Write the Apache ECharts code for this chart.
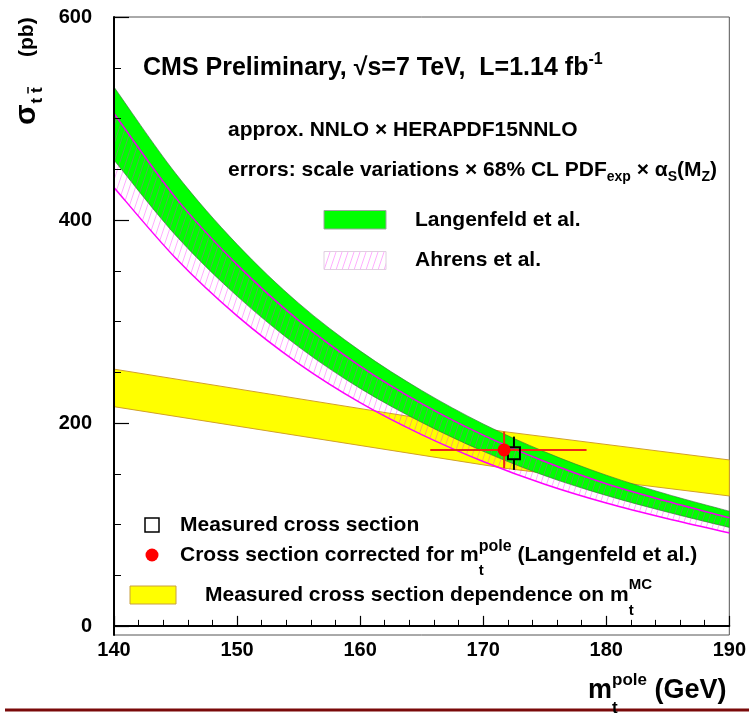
<!DOCTYPE html>
<html>
<head>
<meta charset="utf-8">
<script src="https://cdn.jsdelivr.net/npm/echarts@6/dist/echarts.min.js"></script>
<style>
  html, body { margin: 0; padding: 0; background: #fff; }
  #chart { width: 749px; height: 714px; }
</style>
</head>
<body>
<div id="chart"></div>
<script>
// Top-quark mass grid (GeV) for the theory curves
const massGrid = [140, 145, 150, 155, 160, 165, 170, 175, 180, 185, 190];
// Langenfeld et al. approx. NNLO band (pb)
const langenfeldHigh = [531, 446, 376, 318, 271, 232, 199, 171.5, 148.5, 129.5, 113];
const langenfeldLow  = [459, 385, 325, 275, 234, 200.5, 172, 148, 128.5, 112, 97];
// Ahrens et al. band (pb)
const ahrensHigh = [505, 422, 356, 301, 256, 219, 188, 162, 140, 122.5, 106.5];
const ahrensLow  = [432, 362.5, 305.5, 258.5, 220, 188.5, 162, 139.5, 121, 105.5, 91.6];
// Measured cross section as a function of m_t^MC (pb)
const measMass = [140, 171.7, 190];
const measHigh = [253, 191.4, 163.5];
const measLow  = [216, 155.4, 128];
// Measured point at m_t^MC = 172.5 GeV
const measuredPoint = [172.5, 170];
const measuredErr = [153.7, 186.5];
// Cross section corrected for the pole mass
const polePoint = [171.7, 173.4];
const poleMassErr = [165.7, 178.4];
const poleXsecErr = [155.4, 191.4];
// Axis ticks
const xTicks = [140, 150, 160, 170, 180, 190];
const yTicks = [0, 200, 400, 600];

const FONT = '"Liberation Sans", Helvetica, Arial, sans-serif';
const measureCtx = document.createElement('canvas').getContext('2d');
function textWidth(str, size) {
  measureCtx.font = 'bold ' + size + 'px ' + FONT;
  return measureCtx.measureText(str).width;
}
// Lay out a line of text pieces (sub/superscripts via dy and smaller sizes)
function richRow(x, y, parts) {
  const els = [];
  let cursor = x, lastX = x, lastW = 0;
  parts.forEach(p => {
    const w = textWidth(p.t, p.s);
    let px;
    if (p.stack) { px = lastX + (p.dx || 0); cursor = lastX + Math.max(lastW, w); }
    else { px = cursor + (p.dx || 0); cursor = px + w; lastX = px; lastW = w; }
    els.push({
      type: 'text', x: px, y: y + (p.dy || 0), z: 20, silent: true,
      style: { text: p.t, font: 'bold ' + p.s + 'px ' + FONT, fill: p.c || '#000', align: 'left', verticalAlign: 'middle' }
    });
  });
  return els;
}

// Diagonal hatch used for the Ahrens et al. band
function makeHatch() {
  const c = document.createElement('canvas');
  const w = 6, h = 18;
  c.width = w; c.height = h;
  const g = c.getContext('2d');
  g.strokeStyle = 'rgba(255,0,255,0.32)';
  g.lineWidth = 1;
  for (let k = -1; k <= 1; k++) {
    g.beginPath();
    g.moveTo(k * w, h);
    g.lineTo(k * w + w, 0);
    g.stroke();
  }
  return c;
}
const hatchPattern = { image: makeHatch(), repeat: 'repeat' };

// Smooth path through pixel points (Catmull-Rom as cubic Beziers)
function curveSegs(pts, start) {
  let d = (start ? 'M' : 'L') + pts[0][0] + ',' + pts[0][1];
  for (let i = 0; i < pts.length - 1; i++) {
    const p0 = pts[i - 1] || pts[i], p1 = pts[i], p2 = pts[i + 1], p3 = pts[i + 2] || pts[i + 1];
    const c1 = [p1[0] + (p2[0] - p0[0]) / 6, p1[1] + (p2[1] - p0[1]) / 6];
    const c2 = [p2[0] - (p3[0] - p1[0]) / 6, p2[1] - (p3[1] - p1[1]) / 6];
    d += 'C' + c1[0] + ',' + c1[1] + ' ' + c2[0] + ',' + c2[1] + ' ' + p2[0] + ',' + p2[1];
  }
  return d;
}
function edgePoints(api, xs, ys) {
  return xs.map((x, i) => api.coord([x, ys[i]]));
}
function bandPath(api, xs, hi, lo, smooth) {
  const up = edgePoints(api, xs, hi);
  const dn = edgePoints(api, xs, lo).reverse();
  if (!smooth) {
    return 'M' + up.concat(dn).map(p => p[0] + ',' + p[1]).join('L') + 'Z';
  }
  return curveSegs(up, true) + curveSegs(dn, false) + 'Z';
}

const chart = echarts.init(document.getElementById('chart'), null, { renderer: 'canvas' });

const axisLabelStyle = { fontFamily: FONT, fontWeight: 'bold', fontSize: 20, color: '#000' };

// Y-axis title, drawn rotated
const yTitleParts = [];
(function () {
  const sSig = 30, sSub = 17;
  const wSig = textWidth('σ', sSig);
  const wT = textWidth('t', sSub), wSp = textWidth(' ', sSub);
  yTitleParts.push(...richRow(0, 0, [{ t: 'σ', s: sSig }]));
  const x1 = wSig + 1;
  yTitleParts.push(...richRow(x1, 10, [{ t: 't', s: sSub }]));
  const x2 = x1 + wT + wSp;
  yTitleParts.push(...richRow(x2, 10, [{ t: 't', s: sSub }]));
  yTitleParts.push({ type: 'line', z: 20, silent: true, shape: { x1: x2 - 0.5, y1: 1, x2: x2 + wT + 0.5, y2: 1 }, style: { stroke: '#000', lineWidth: 1.5 } });
  yTitleParts.push(...richRow(68, 0, [{ t: '(pb)', s: 21 }]));
})();

const graphicEls = [
  // bottom rule
  { type: 'line', z: 15, silent: true, shape: { x1: 5, y1: 710, x2: 749, y2: 710 }, style: { stroke: '#7a0a0a', lineWidth: 3 } },
  { type: 'group', x: 27, y: 125, rotation: Math.PI / 2, children: yTitleParts },
  // x-axis title
  ...richRow(588, 690.5, [
    { t: 'm', s: 27 },
    { t: 'pole', s: 17, dy: -10 },
    { t: 't', s: 17, dy: 18, stack: true, dx: 0 },
    { t: ' (GeV)', s: 27 }
  ]),
  // header texts
  ...richRow(143, 68.5, [
    { t: 'CMS Preliminary, √s=7 TeV,  L=1.14 fb', s: 25 },
    { t: '-1', s: 16, dy: -9 }
  ]),
  ...richRow(228, 130, [{ t: 'approx. NNLO × HERAPDF15NNLO', s: 21 }]),
  ...richRow(228, 170, [
    { t: 'errors: scale variations × 68% CL PDF', s: 21 },
    { t: 'exp', s: 14, dy: 7 },
    { t: ' × α', s: 21 },
    { t: 'S', s: 14, dy: 7 },
    { t: '(M', s: 21 },
    { t: 'Z', s: 14, dy: 7 },
    { t: ')', s: 21 }
  ]),
  // theory legend
  { type: 'rect', z: 20, silent: true, shape: { x: 324, y: 210.5, width: 62, height: 18.5 }, style: { fill: '#00ff00', stroke: '#a0a0a0', lineWidth: 1 } },
  ...richRow(415, 220, [{ t: 'Langenfeld et al.', s: 21 }]),
  { type: 'rect', z: 20, silent: true, shape: { x: 324, y: 251.5, width: 62, height: 18 }, style: { fill: hatchPattern, stroke: '#e0d0e0', lineWidth: 1 } },
  ...richRow(415, 260, [{ t: 'Ahrens et al.', s: 21 }]),
  // measurement legend
  { type: 'rect', z: 20, silent: true, shape: { x: 145, y: 518, width: 14, height: 14 }, style: { fill: 'none', stroke: '#000', lineWidth: 1.5 } },
  ...richRow(180, 525, [{ t: 'Measured cross section', s: 21 }]),
  { type: 'circle', z: 20, silent: true, shape: { cx: 152, cy: 555, r: 6.5 }, style: { fill: '#ff0000' } },
  ...richRow(180, 555, [
    { t: 'Cross section corrected for m', s: 21 },
    { t: 'pole', s: 16, dy: -8 },
    { t: 't', s: 15, dy: 16, stack: true, dx: 0 },
    { t: ' (Langenfeld et al.)', s: 21 }
  ]),
  { type: 'rect', z: 20, silent: true, shape: { x: 130, y: 586, width: 46, height: 18 }, style: { fill: '#ffff00', stroke: '#c8a040', lineWidth: 1 } },
  ...richRow(205, 595, [
    { t: 'Measured cross section dependence on m', s: 21 },
    { t: 'MC', s: 15, dy: -10 },
    { t: 't', s: 15, dy: 16, stack: true, dx: 0 }
  ])
];

const option = {
  animation: false,
  backgroundColor: '#fff',
  grid: [
    { left: 114, right: 18, top: 17, bottom: 79, show: true, borderColor: '#555', borderWidth: 1, backgroundColor: 'transparent' },
    { left: 114, right: 18, top: 17, bottom: 88 }
  ],
  xAxis: [
    {
      gridIndex: 0, type: 'value', min: xTicks[0], max: xTicks[xTicks.length - 1], interval: 10, z: 10,
      axisLine: { show: true, lineStyle: { color: '#000', width: 2 } },
      axisTick: { show: true, inside: true, length: 10, lineStyle: { color: '#000', width: 1.2 } },
      minorTick: { show: true, splitNumber: 5, length: 6, lineStyle: { color: '#000', width: 1 } },
      axisLabel: Object.assign({ margin: 5 }, axisLabelStyle),
      splitLine: { show: false }
    },
    { gridIndex: 1, type: 'value', min: 140, max: 190, show: false }
  ],
  yAxis: [
    {
      gridIndex: 0, type: 'value', min: -9, max: 600, z: 10,
      axisLine: { show: true, lineStyle: { color: '#000', width: 2 } },
      axisTick: { show: false }, axisLabel: { show: false }, splitLine: { show: false }
    },
    {
      gridIndex: 1, type: 'value', min: yTicks[0], max: yTicks[yTicks.length - 1], interval: 200, z: 10,
      axisLine: { show: false },
      axisTick: { show: true, inside: true, length: 15, lineStyle: { color: '#000', width: 1.2 } },
      minorTick: { show: true, splitNumber: 4, length: 7, lineStyle: { color: '#000', width: 1 } },
      axisLabel: Object.assign({ margin: 22 }, axisLabelStyle),
      splitLine: { show: false }
    }
  ],
  series: [
    {
      type: 'custom', name: 'measured vs mMC', z: 2, clip: true, silent: true,
      data: [[measMass[0], measLow[0]]],
      renderItem: (params, api) => ({
        type: 'path',
        shape: { pathData: bandPath(api, measMass, measHigh, measLow, false) },
        style: { fill: '#ffff00', stroke: '#d2a028', lineWidth: 1 }
      })
    },
    {
      type: 'custom', name: 'Langenfeld et al.', z: 3, clip: true, silent: true,
      data: [[massGrid[0], langenfeldLow[0]]],
      renderItem: (params, api) => ({
        type: 'path',
        shape: { pathData: bandPath(api, massGrid, langenfeldHigh, langenfeldLow, true) },
        style: { fill: '#00ff00', stroke: 'rgba(60,110,60,0.8)', lineWidth: 0.8 }
      })
    },
    {
      type: 'custom', name: 'Ahrens et al.', z: 4, clip: true, silent: true,
      data: [[massGrid[0], ahrensLow[0]]],
      renderItem: (params, api) => ({
        type: 'group',
        children: [
          { type: 'path', shape: { pathData: bandPath(api, massGrid, ahrensHigh, ahrensLow, true) }, style: { fill: hatchPattern, stroke: null } },
          { type: 'path', shape: { pathData: curveSegs(edgePoints(api, massGrid, ahrensHigh), true) }, style: { fill: null, stroke: '#ee00ee', lineWidth: 1.5 } },
          { type: 'path', shape: { pathData: curveSegs(edgePoints(api, massGrid, ahrensLow), true) }, style: { fill: null, stroke: '#ff00ff', lineWidth: 1.5 } }
        ]
      })
    },
    {
      type: 'custom', name: 'error bars', z: 6, clip: true, silent: true,
      data: [polePoint],
      renderItem: (params, api) => {
        const h0 = api.coord([poleMassErr[0], polePoint[1]]);
        const h1 = api.coord([poleMassErr[1], polePoint[1]]);
        const v0 = api.coord([polePoint[0], poleXsecErr[0]]);
        const v1 = api.coord([polePoint[0], poleXsecErr[1]]);
        const c = api.coord(measuredPoint);
        const mt = api.coord([measuredPoint[0], measuredErr[1]]);
        const mb = api.coord([measuredPoint[0], measuredErr[0]]);
        const half = 6;
        const red = { stroke: '#ee2a18', lineWidth: 2 };
        const blk = { stroke: '#000', lineWidth: 2 };
        return {
          type: 'group', children: [
            { type: 'line', shape: { x1: h0[0], y1: h0[1], x2: h1[0], y2: h1[1] }, style: red },
            { type: 'line', shape: { x1: v0[0], y1: v0[1], x2: v1[0], y2: v1[1] }, style: red },
            { type: 'line', shape: { x1: c[0], y1: mt[1], x2: c[0], y2: c[1] - half }, style: blk },
            { type: 'line', shape: { x1: c[0], y1: c[1] + half, x2: c[0], y2: mb[1] }, style: blk }
          ]
        };
      }
    },
    {
      type: 'scatter', name: 'Measured cross section', z: 7, silent: true,
      data: [measuredPoint], symbol: 'rect', symbolSize: 12,
      itemStyle: { color: 'rgba(0,0,0,0)', borderColor: '#000', borderWidth: 2, opacity: 1 }
    },
    {
      type: 'scatter', name: 'Cross section corrected', z: 8, silent: true,
      data: [polePoint], symbol: 'circle', symbolSize: 13,
      itemStyle: { color: '#ff0000', opacity: 1 }
    }
  ],
  graphic: { elements: graphicEls }
};

chart.setOption(option);
</script>
</body>
</html>
